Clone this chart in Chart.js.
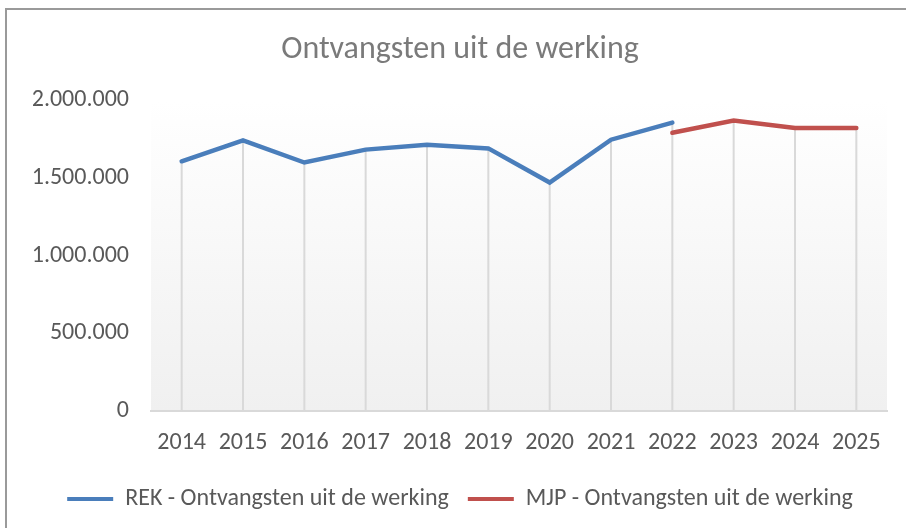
<!DOCTYPE html>
<html>
<head>
<meta charset="utf-8">
<script src="https://cdn.jsdelivr.net/npm/chart.js@4"></script>
<style>
    html, body { margin: 0; padding: 0; background: #fff; overflow: hidden; }
    #frame { position: absolute; left: 5px; top: 8px; width: 1000px; height: 600px; border: 2px solid #9a9a9a; }
    #wrap { position: absolute; left: 0; top: 0; width: 906px; height: 528px; }
</style>
</head>
<body>
<div id="frame"></div>
<div id="wrap"><canvas id="chart" width="906" height="528"></canvas></div>
<script>
// Data
const years = ['2014', '2015', '2016', '2017', '2018', '2019', '2020', '2021', '2022', '2023', '2024', '2025'];
const rekValues = [1608000, 1743000, 1600000, 1683000, 1715000, 1691000, 1471000, 1747000, 1857000, null, null, null];
const mjpValues = [null, null, null, null, null, null, null, null, 1792000, 1871000, 1822000, 1822000];
const yTicks = [0, 500000, 1000000, 1500000, 2000000];

const FONT = 'Carlito, Lato, "Open Sans", sans-serif';
const TEXT = '#595959';

// Dutch thousand separators: 2.000.000
function formatNL(v) {
    return String(v).replace(/\B(?=(\d{3})+(?!\d))/g, '.');
}

// Plot area gradient (white at top, light grey at bottom)
const plotBackground = {
    id: 'plotBackground',
    beforeDraw(chart) {
        const { ctx, chartArea: a } = chart;
        const g = ctx.createLinearGradient(0, a.top, 0, a.bottom);
        g.addColorStop(0, '#ffffff');
        g.addColorStop(1, '#f0f0f0');
        ctx.save();
        ctx.fillStyle = g;
        ctx.fillRect(a.left, a.top, a.right - a.left, a.bottom - a.top);
        ctx.restore();
    }
};

// Drop lines from the highest point of each year to the axis
const dropLines = {
    id: 'dropLines',
    beforeDatasetsDraw(chart) {
        const { ctx, chartArea: a } = chart;
        ctx.save();
        ctx.strokeStyle = '#d9d9d9';
        ctx.lineWidth = 2;
        years.forEach((y, i) => {
            let top = null, x = null;
            chart.data.datasets.forEach((ds, d) => {
                if (ds.data[i] == null) return;
                const pt = chart.getDatasetMeta(d).data[i];
                if (top === null || pt.y < top) { top = pt.y; x = pt.x; }
            });
            if (top === null) return;
            ctx.beginPath();
            ctx.moveTo(x, top);
            ctx.lineTo(x, a.bottom);
            ctx.stroke();
        });
        ctx.restore();
    }
};

const ctx = document.getElementById('chart');

new Chart(ctx, {
    type: 'line',
    data: {
        labels: years,
        datasets: [{
            label: 'REK - Ontvangsten uit de werking',
            data: rekValues,
            borderColor: '#4a7ebb',
            backgroundColor: '#4a7ebb',
            borderWidth: 4.5,
            borderCapStyle: 'round',
            pointRadius: 0,
            tension: 0
        }, {
            label: 'MJP - Ontvangsten uit de werking',
            data: mjpValues,
            borderColor: '#c0504d',
            backgroundColor: '#c0504d',
            borderWidth: 4.5,
            borderCapStyle: 'round',
            pointRadius: 0,
            tension: 0
        }]
    },
    options: {
        responsive: false,
        animation: false,
        layout: {
            padding: { left: 33, right: 19, top: 0, bottom: 7 }
        },
        scales: {
            x: {
                offset: true,
                grid: { display: false, offset: false },
                border: { display: true, color: '#d9d9d9', width: 2 },
                ticks: {
                    color: TEXT,
                    padding: 10,
                    maxRotation: 0,
                    autoSkip: false,
                    font: { family: FONT, size: 24 }
                },
                afterFit(scale) { scale.height = 57; }
            },
            y: {
                min: 0,
                max: 2000000,
                afterBuildTicks(scale) {
                    scale.ticks = yTicks.map(v => ({ value: v }));
                },
                grid: { display: false, drawTicks: false },
                border: { display: false },
                ticks: {
                    color: TEXT,
                    padding: 22,
                    font: { family: FONT, size: 24 },
                    callback: v => formatNL(v)
                },
                afterFit(scale) { scale.width = 118; }
            }
        },
        plugins: {
            title: {
                display: true,
                text: 'Ontvangsten uit de werking',
                color: '#7a7a7a',
                font: { family: FONT, size: 32, weight: 'normal' },
                padding: { top: 31, bottom: 31 }
            },
            legend: {
                position: 'bottom',
                labels: {
                    color: TEXT,
                    boxWidth: 46,
                    boxHeight: 4,
                    padding: 19,
                    font: { family: FONT, size: 24 },
                    generateLabels(chart) {
                        const items = Chart.defaults.plugins.legend.labels.generateLabels(chart);
                        items.forEach(it => { it.lineWidth = 0; });
                        return items;
                    }
                }
            },
            tooltip: { enabled: false }
        }
    },
    plugins: [plotBackground, dropLines]
});
</script>
</body>
</html>
